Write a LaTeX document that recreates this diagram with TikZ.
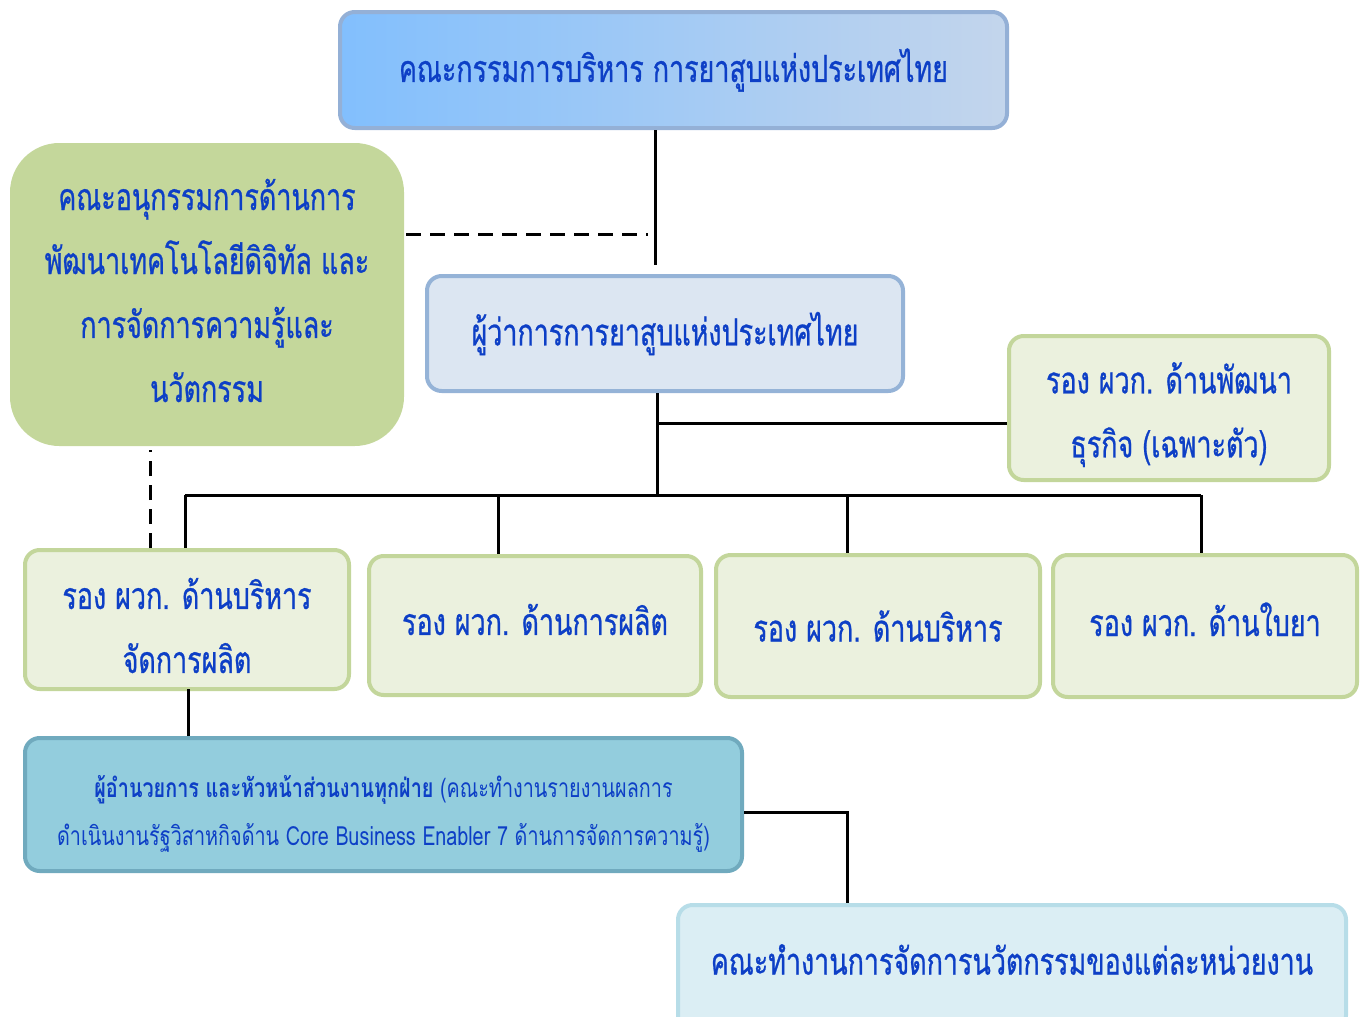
\documentclass[tikz,border=0pt]{standalone}
\usepackage{fontspec}
\newfontfamily\thai[Script=Thai, FakeStretch=0.72, FakeBold=0.7]{Loma}
\newfontfamily\thaiR[Script=Thai, FakeStretch=0.75]{Loma}
\definecolor{tcol}{HTML}{0D3FC6}
\definecolor{topL}{HTML}{82BFFD}
\definecolor{topR}{HTML}{C3D5EC}
\definecolor{topB}{HTML}{94B0D6}
\definecolor{govF}{HTML}{DCE6F2}
\definecolor{govB}{HTML}{95B3D7}
\definecolor{grnF}{HTML}{C4D79B}
\definecolor{ltgF}{HTML}{EBF1DE}
\definecolor{ltgB}{HTML}{C3D69B}
\definecolor{bluF}{HTML}{93CDDD}
\definecolor{bluB}{HTML}{70AABE}
\definecolor{botF}{HTML}{DBEEF4}
\definecolor{botB}{HTML}{B7DDE8}
\tikzset{
  box/.style={rounded corners=11pt, line width=3pt, inner sep=0pt},
  lbl/.style={inner sep=0pt, align=center, text=tcol, font=\thai\fontsize{28}{48}\selectfont},
  sz/.style 2 args={minimum width=#1*0.75pt, minimum height=#2*0.75pt},
  conn/.style={line width=2.25pt, black},
  dconn/.style={line width=2.25pt, black, dash pattern=on 11pt off 7pt}
}
\begin{document}
\begin{tikzpicture}[x=0.75pt,y=-0.75pt]
\useasboundingbox (0,0) rectangle (1364,1017);
\node[box, sz={667}{116}, draw=topB, left color=topL, right color=topR,
  label={[lbl]center:{คณะกรรมการบริหาร การยาสูบแห่งประเทศไทย}}] (top) at (673.5,70) {};
\node[box, sz={394}{303}, fill=grnF, rounded corners=37pt,
  label={[lbl, yshift=3pt]center:{คณะอนุกรรมการด้านการ\\พัฒนาเทคโนโลยีดิจิทัล และ\\การจัดการความรู้และ\\นวัตกรรม}}] (green) at (207,294.5) {};
\node[box, sz={476}{115}, fill=govF, draw=govB,
  label={[lbl]center:{ผู้ว่าการการยาสูบแห่งประเทศไทย}}] (gov) at (665,333.5) {};
\node[box, sz={320}{144}, fill=ltgF, draw=ltgB,
  label={[lbl, yshift=-5pt]center:{รอง ผวก. ด้านพัฒนา\\ธุรกิจ (เฉพาะตัว)}}] (right) at (1169,408) {};
\node[box, sz={324}{139}, fill=ltgF, draw=ltgB,
  label={[lbl, yshift=-4.5pt]center:{รอง ผวก. ด้านบริหาร\\จัดการผลิต}}] (r1) at (187,619.5) {};
\node[box, sz={332}{139}, fill=ltgF, draw=ltgB,
  label={[lbl, yshift=4.5pt]center:{รอง ผวก. ด้านการผลิต}}] (r2) at (535,625.5) {};
\node[box, sz={324}{142}, fill=ltgF, draw=ltgB,
  label={[lbl]center:{รอง ผวก. ด้านบริหาร}}] (r3) at (878,626) {};
\node[box, sz={304}{142}, fill=ltgF, draw=ltgB,
  label={[lbl, yshift=5pt]center:{รอง ผวก. ด้านใบยา}}] (r4) at (1205,626) {};
\node[box, sz={717}{133}, fill=bluF, draw=bluB,
  label={[lbl, yshift=-7pt, font=\thaiR\fontsize{19.8}{36}\selectfont]center:{{\bfseries ผู้อำนวยการ และหัวหน้าส่วนงานทุกฝ่าย} (คณะทำงานรายงานผลการ\\ดำเนินงานรัฐวิสาหกิจด้าน Core Business Enabler 7 ด้านการจัดการความรู้)}}] (blue) at (383.5,804.5) {};
\node[box, sz={668}{125}, fill=botF, draw=botB,
  label={[lbl, yshift=6pt]center:{คณะทำงานการจัดการนวัตกรรมของแต่ละหน่วยงาน}}] (bottom) at (1012,967.5) {};
% connector points
\coordinate (j1) at (655,265);
\coordinate (d1) at (648,234);
\coordinate (j2) at (657,423);
\coordinate (bus) at (657,495);
\coordinate (b1) at (185,495);
\coordinate (b2) at (498,495);
\coordinate (b3) at (847,495);
\coordinate (b4) at (1201,495);
\coordinate (dv) at (150,450);
\coordinate (c1) at (188,689);
\coordinate (k) at (847,812);
% connectors
\draw[conn] (top.south -| j1) -- (j1);
\draw[dconn] (green.east |- d1) -- (d1);
\draw[conn] (gov.south -| bus) -- (bus);
\draw[conn] (j2) -- (j2 -| right.west);
\draw[conn] (b1) -- (b4);
\draw[conn] (b1) -- (b1 |- r1.north);
\draw[conn] (b2) -- (b2 |- r2.north);
\draw[conn] (b3) -- (b3 |- r3.north);
\draw[conn] (b4) -- (b4 |- r4.north);
\draw[dconn] (dv |- r1.north) -- (dv);
\draw[conn] (c1) -- (c1 |- blue.north);
\draw[conn] (blue.east |- k) -- (k) -- (k |- bottom.north);
\end{tikzpicture}
\end{document}
